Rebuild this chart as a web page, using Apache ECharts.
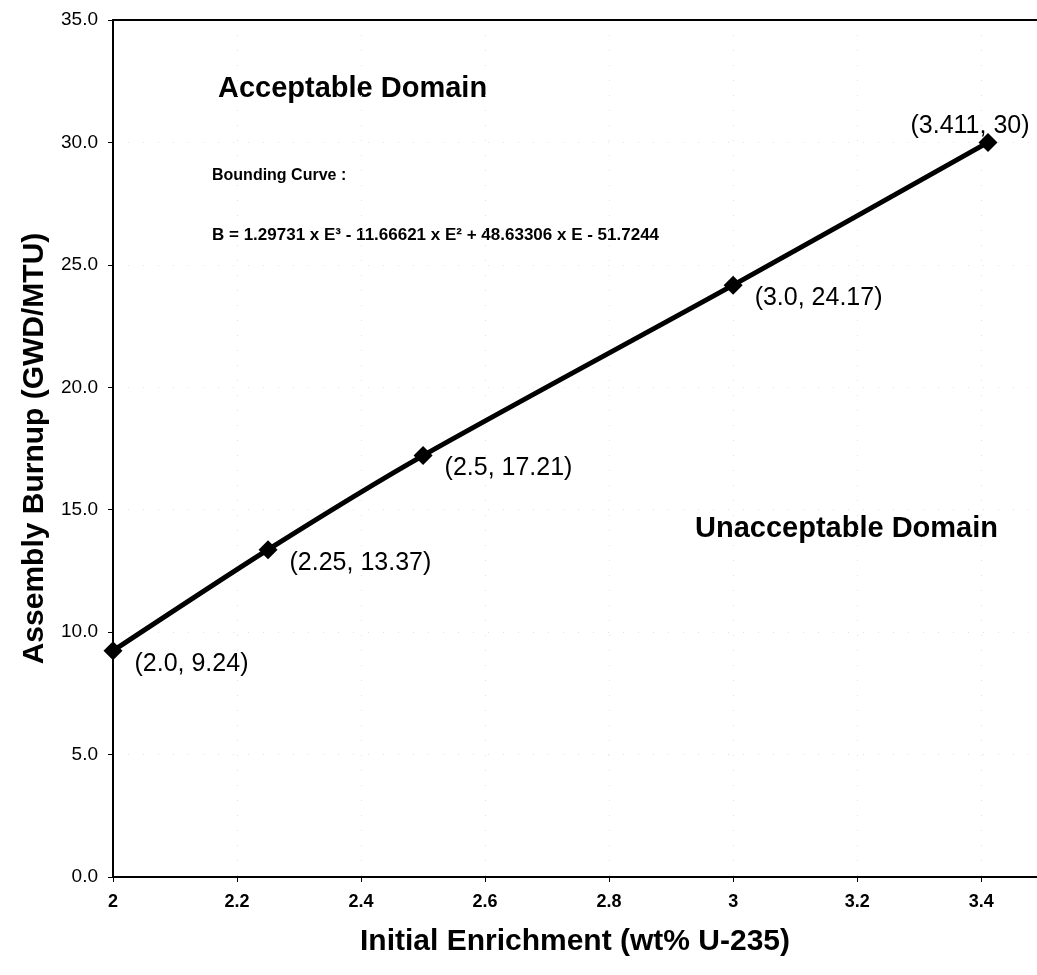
<!DOCTYPE html>
<html>
<head>
<meta charset="utf-8">
<script src="https://cdn.jsdelivr.net/npm/echarts@6/dist/echarts.min.js"></script>
<style>html,body{margin:0;padding:0;background:#fff;overflow:hidden;}#c{width:1037px;height:975px;}</style>
</head>
<body>
<div id="c"></div>
<script>
// Data
var enrichment = [2.0, 2.25, 2.5, 3.0, 3.411];
var burnup = [9.24, 13.37, 17.21, 24.17, 30];
var pointLabels = ['(2.0, 9.24)', '(2.25, 13.37)', '(2.5, 17.21)', '(3.0, 24.17)', '(3.411, 30)'];
var xTitle = 'Initial Enrichment (wt% U-235)';
var yTitle = 'Assembly Burnup (GWD/MTU)';
var noteTitle = 'Bounding Curve :';
var noteEquation = 'B = 1.29731 x E³ - 11.66621 x E² + 48.63306 x E - 51.7244';
var regionUpper = 'Acceptable Domain';
var regionLower = 'Unacceptable Domain';

var FONT = '"Liberation Sans", Arial, sans-serif';
var X_MIN = 2, X_MAX = 3.49;

var seriesData = enrichment.map(function (x, i) {
  var last = i === enrichment.length - 1;
  return {
    value: [x, burnup[i]],
    label: last ? { position: 'top', offset: [-18, 11] } : { position: 'right', offset: [7, 13] }
  };
});

var chart = echarts.init(document.getElementById('c'), null, { renderer: 'canvas' });
chart.setOption({
  backgroundColor: '#ffffff',
  animation: false,
  textStyle: { fontFamily: FONT },
  grid: { left: 113, top: 20, right: 0, bottom: 98, show: false },
  xAxis: [{
    type: 'value', min: X_MIN, max: X_MAX, interval: 0.2,
    name: xTitle, nameLocation: 'middle', nameGap: 50,
    nameTextStyle: { fontFamily: FONT, fontSize: 30, fontWeight: 'bold', color: '#000' },
    axisLine: { show: true, lineStyle: { color: '#000', width: 2 } },
    axisTick: { show: true, length: 5, lineStyle: { color: '#000', width: 1 } },
    axisLabel: { fontFamily: FONT, fontSize: 18, fontWeight: 'bold', color: '#000', margin: 16, showMaxLabel: false,
      formatter: function (v) { return String(Math.round(v * 10) / 10); } },
    splitLine: { show: true, lineStyle: { color: '#e2e2e2', width: 1, type: [1, 14] } }
  }, {
    type: 'value', position: 'top', min: X_MIN, max: X_MAX, interval: 0.2,
    axisLine: { show: true, lineStyle: { color: '#000', width: 2 } },
    axisTick: { show: false }, axisLabel: { show: false }, splitLine: { show: false }
  }],
  yAxis: {
    type: 'value', min: 0, max: 35, interval: 5,
    name: yTitle, nameLocation: 'middle', nameGap: 63, nameRotate: 90,
    nameTextStyle: { fontFamily: FONT, fontSize: 30, fontWeight: 'bold', color: '#000' },
    axisLine: { show: true, lineStyle: { color: '#000', width: 2 } },
    axisTick: { show: true, length: 5, lineStyle: { color: '#000', width: 1 } },
    axisLabel: { fontFamily: FONT, fontSize: 19, color: '#000', margin: 15,
      formatter: function (v) { return v.toFixed(1); } },
    splitLine: { show: true, lineStyle: { color: '#e2e2e2', width: 1, type: [1, 14] } }
  },
  series: [{
    type: 'line',
    xAxisIndex: 0,
    data: seriesData,
    smooth: 0.25,
    symbol: 'diamond',
    symbolSize: 19,
    itemStyle: { color: '#000' },
    lineStyle: { color: '#000', width: 5 },
    label: {
      show: true, fontFamily: FONT, fontSize: 25, color: '#000',
      formatter: function (p) { return pointLabels[p.dataIndex]; }
    }
  }],
  graphic: [
    { type: 'text', left: 218, top: 74, style: { text: regionUpper, font: 'bold 29px ' + FONT, fill: '#000' } },
    { type: 'text', left: 695, top: 514, style: { text: regionLower, font: 'bold 29px ' + FONT, fill: '#000' } },
    { type: 'text', left: 212, top: 168, style: { text: noteTitle, font: 'bold 16px ' + FONT, fill: '#000' } },
    { type: 'text', left: 212, top: 227, style: { text: noteEquation, font: 'bold 17px ' + FONT, fill: '#000' } }
  ]
});
</script>
</body>
</html>
